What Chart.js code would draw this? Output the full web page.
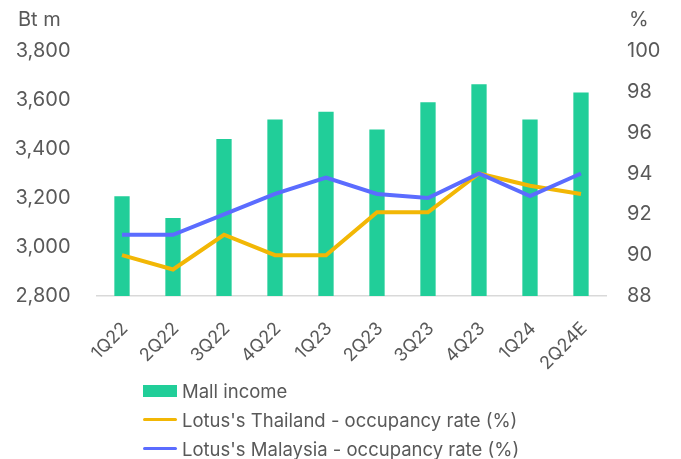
<!DOCTYPE html>
<html>
<head>
<meta charset="utf-8">
<script src="https://cdn.jsdelivr.net/npm/chart.js@4.4.1/dist/chart.umd.min.js"></script>
<style>
  html, body { margin: 0; padding: 0; background: #ffffff; }
  #wrap { position: relative; width: 681px; height: 459px; }
  #legend { position: absolute; left: 143px; top: 376px; font-family: Inter, sans-serif; font-size: 18.5px; color: #595959; }
  .item { height: 29px; display: flex; align-items: center; }
  .sw { width: 34px; margin-right: 5px; }
</style>
</head>
<body>
<div id="wrap">
  <canvas id="c" width="681" height="459"></canvas>
  <div id="legend"></div>
</div>
<script>
const categories = ['1Q22','2Q22','3Q22','4Q22','1Q23','2Q23','3Q23','4Q23','1Q24','2Q24E'];
const mallIncome = [3207, 3118, 3441, 3520, 3552, 3480, 3591, 3664, 3520, 3631];
const thailandOcc = [90.0, 89.3, 91.0, 90.0, 90.0, 92.1, 92.1, 94.0, 93.4, 93.0];
const malaysiaOcc = [91.0, 91.0, 92.0, 93.0, 93.8, 93.0, 92.8, 94.0, 92.9, 94.0];
const leftTicks = { min: 2800, max: 3800, step: 200 };
const rightTicks = { min: 88, max: 100, step: 2 };

const GREEN = '#21CE99', ORANGE = '#F2B705', BLUE = '#5B6CFF', TXT = '#595959';
const FONT = 'Inter, sans-serif';

const titles = {
  id: 'axisTitles',
  afterDraw(chart) {
    const ctx = chart.ctx;
    ctx.save();
    ctx.fillStyle = TXT;
    ctx.font = '20px ' + FONT;
    ctx.textBaseline = 'middle';
    ctx.textAlign = 'left';
    ctx.fillText('Bt m', 18, 20);
    ctx.fillText('%', 629, 20);
    ctx.restore();
  }
};

const datasets = [
  { type: 'line', label: "Lotus's Thailand - occupancy rate (%)", data: thailandOcc, yAxisID: 'y1',
    borderColor: ORANGE, backgroundColor: ORANGE, borderWidth: 4, pointRadius: 0, tension: 0, order: 1 },
  { type: 'line', label: "Lotus's Malaysia - occupancy rate (%)", data: malaysiaOcc, yAxisID: 'y1',
    borderColor: BLUE, backgroundColor: BLUE, borderWidth: 4, pointRadius: 0, tension: 0, order: 0 },
  { type: 'bar', label: 'Mall income', data: mallIncome, yAxisID: 'y',
    backgroundColor: GREEN, borderWidth: 0, barPercentage: 0.3, categoryPercentage: 1.0, order: 2 }
];

const chart = new Chart(document.getElementById('c'), {
  data: { labels: categories, datasets },
  options: {
    responsive: false,
    animation: false,
    layout: { padding: { top: 51, left: 0, right: 0, bottom: 0 } },
    plugins: { legend: { display: false }, tooltip: { enabled: false } },
    scales: {
      x: {
        grid: { display: false, drawTicks: false },
        border: { display: true, color: '#d9d9d9', width: 1.5 },
        ticks: { color: TXT, font: { family: FONT, size: 18 }, minRotation: 45, maxRotation: 45, padding: 22, labelOffset: 3, autoSkip: false },
        afterFit(s) { s.height = 163; }
      },
      y: {
        position: 'left', min: leftTicks.min, max: leftTicks.max,
        grid: { display: false, drawTicks: false }, border: { display: false },
        ticks: { stepSize: leftTicks.step, color: TXT, font: { family: FONT, size: 20 }, padding: 26,
          callback: v => v.toLocaleString('en-US') },
        afterFit(s) { s.width = 96.5; }
      },
      y1: {
        position: 'right', min: rightTicks.min, max: rightTicks.max,
        grid: { display: false, drawTicks: false }, border: { display: false },
        ticks: { stepSize: rightTicks.step, color: TXT, font: { family: FONT, size: 20 }, padding: 20.5 },
        afterFit(s) { s.width = 74.5; }
      }
    }
  },
  plugins: [titles]
});

// HTML legend built from dataset definitions
const legendOrder = [2, 0, 1];
const lg = document.getElementById('legend');
legendOrder.forEach(i => {
  const ds = datasets[i];
  const row = document.createElement('div');
  row.className = 'item';
  const sw = document.createElement('span');
  sw.className = 'sw';
  if (ds.type === 'bar') { sw.style.height = '12px'; sw.style.background = ds.backgroundColor; }
  else { sw.style.height = '3px'; sw.style.background = ds.borderColor; sw.style.borderRadius = '2px'; }
  const t = document.createElement('span');
  t.textContent = ds.label;
  row.appendChild(sw); row.appendChild(t);
  lg.appendChild(row);
});
</script>
</body>
</html>
